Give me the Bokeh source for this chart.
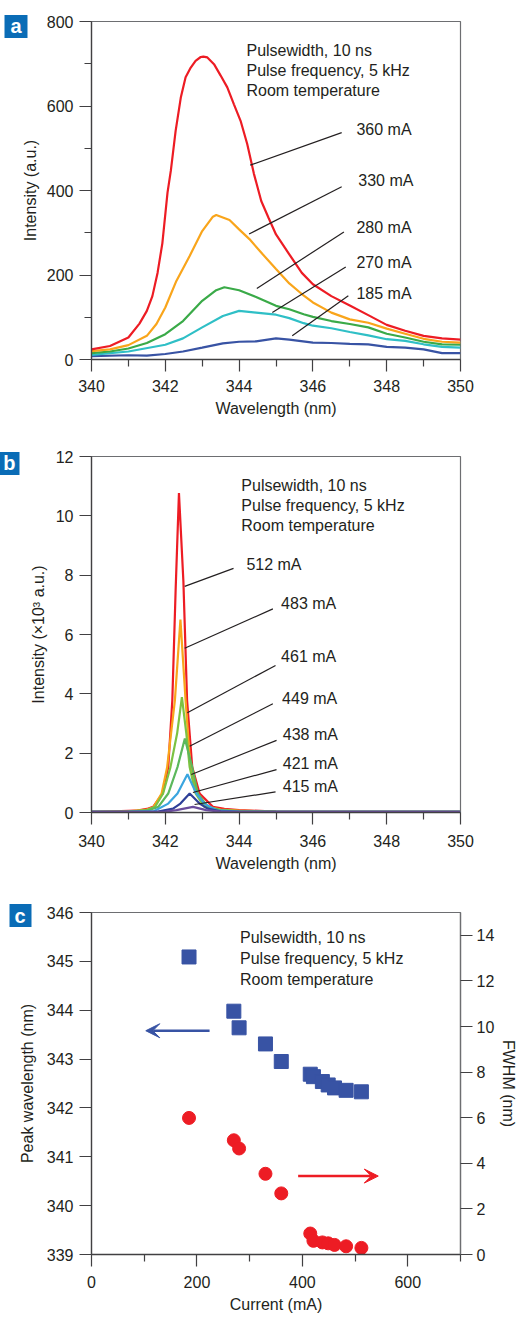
from bokeh.plotting import figure
from bokeh.layouts import column
from bokeh.models import (Range1d, LinearAxis, Label, Arrow, VeeHead, FixedTicker)
from bokeh.embed import file_html
from bokeh.resources import INLINE

# ---------------- data ----------------
# panel a: spectra below threshold (a.u.)
a_360_x = [340, 340.5, 341, 341.3, 341.5, 341.65, 341.79, 341.92, 342.06, 342.15, 342.28,
           342.42, 342.55, 342.69, 342.82, 342.96, 343.03, 343.14, 343.32, 343.5, 343.68,
           343.86, 344.04, 344.22, 344.4, 344.6, 344.8, 345, 345.36, 345.7, 346, 346.5,
           347, 347.5, 348, 348.5, 349, 349.5, 350]
a_360_y = [24, 32, 52, 85, 115, 150, 205, 275, 395, 447, 541, 620, 668, 691, 707, 716, 717,
           715, 699, 672, 644, 604, 565, 510, 440, 375, 335, 296, 249, 205, 178, 150, 128,
           105, 82, 68, 56, 50, 47]
a_330_x = [340, 340.5, 341, 341.5, 341.76, 342.0, 342.3, 342.66, 343.0, 343.29, 343.38,
           343.74, 344.0, 344.28, 344.64, 345.0, 345.36, 345.7, 346, 346.5, 347, 347.5,
           348, 348.5, 349, 349.5, 350]
a_330_y = [20, 24, 34, 56, 84, 123, 186, 245, 304, 338, 342, 330, 308, 285, 249, 214, 180,
           155, 135, 111, 95, 87, 73, 61, 49, 42, 40]
a_280_x = [340, 340.5, 341, 341.5, 342, 342.48, 343, 343.38, 343.6, 344, 344.46, 345,
           345.36, 345.75, 346, 346.5, 347, 347.5, 348, 348.5, 349, 349.5, 350]
a_280_y = [15, 19, 26, 39, 60, 91, 139, 164, 171, 164, 148, 127, 119, 107, 101, 91, 84,
           76, 61, 52, 42, 36, 35]
a_270_x = [340, 341, 342, 342.48, 343, 343.56, 344.0, 344.46, 345, 345.36, 345.75, 346,
           346.5, 347, 347.5, 348, 348.5, 349, 349.5, 350]
a_270_y = [11, 19, 35, 50, 76, 103, 115, 111, 106, 98, 86, 80, 74, 65, 57, 48, 44, 36,
           30, 28]
a_185_x = [340, 341, 341.5, 342, 342.48, 343, 343.56, 344, 344.46, 345, 345.36, 346,
           346.5, 347, 347.5, 348, 348.5, 349, 349.5, 350]
a_185_y = [8, 10, 9, 13, 19, 28, 38, 42, 43, 50, 47, 40, 39, 37, 36, 30, 28, 24, 15, 15]
labels_a = ["360 mA", "330 mA", "280 mA", "270 mA", "185 mA"]

# panel b: spectra above threshold (x10^3 a.u.)
b_512_x = [340, 340.8, 341.2, 341.5, 341.67, 341.93, 342.08, 342.19, 342.28, 342.37,
           342.49, 342.59, 342.73, 342.93, 343.29, 343.6, 344, 345, 346, 350]
b_512_y = [0.02, 0.05, 0.06, 0.12, 0.19, 0.64, 1.53, 3.78, 7.5, 10.77, 7.8, 3.78, 1.53,
           0.64, 0.19, 0.12, 0.08, 0.03, 0.02, 0.02]
b_483_x = [340, 341, 341.5, 341.67, 341.9, 342.05, 342.26, 342.41, 342.55, 342.68,
           342.86, 343.15, 343.5, 344, 345, 350]
b_483_y = [0.02, 0.04, 0.1, 0.17, 0.64, 1.53, 3.78, 6.5, 3.78, 1.53, 0.64, 0.19, 0.1,
           0.06, 0.03, 0.02]
b_461_x = [340, 341, 341.5, 341.72, 341.94, 342.14, 342.32, 342.45, 342.57, 342.66,
           342.82, 343.06, 343.5, 344, 345, 350]
b_461_y = [0.02, 0.03, 0.08, 0.19, 0.64, 1.53, 2.66, 3.89, 2.66, 1.53, 0.64, 0.19, 0.08,
           0.05, 0.03, 0.02]
b_449_x = [340, 341, 341.5, 341.81, 342.08, 342.33, 342.53, 342.73, 342.88, 343.15,
           343.5, 344, 345, 350]
b_449_y = [0.02, 0.03, 0.06, 0.19, 0.64, 1.53, 2.49, 1.53, 0.64, 0.19, 0.07, 0.04,
           0.02, 0.02]
b_438_x = [340, 341, 341.7, 342.08, 342.33, 342.6, 342.84, 343.06, 343.4, 344, 345, 350]
b_438_y = [0.02, 0.02, 0.05, 0.3, 0.64, 1.29, 0.64, 0.3, 0.07, 0.03, 0.02, 0.02]
b_421_x = [340, 341, 341.8, 342.21, 342.41, 342.66, 342.93, 343.15, 343.5, 344, 350]
b_421_y = [0.02, 0.02, 0.03, 0.13, 0.3, 0.64, 0.3, 0.13, 0.04, 0.02, 0.02]
b_415_x = [340, 341, 342.0, 342.3, 342.75, 343.11, 343.5, 344, 350]
b_415_y = [0.02, 0.02, 0.03, 0.08, 0.19, 0.08, 0.03, 0.02, 0.02]
labels_b = ["512 mA", "483 mA", "461 mA", "449 mA", "438 mA", "421 mA", "415 mA"]

# panel c: peak wavelength and FWHM vs current
current = [185, 270, 280, 330, 360, 415, 421, 438, 449, 461, 483, 512]
peak_wl = [345.09, 343.98, 343.64, 343.31, 342.95, 342.69, 342.64, 342.54, 342.47,
           342.41, 342.36, 342.33]
fwhm = [5.99, 5.01, 4.65, 3.54, 2.68, 0.92, 0.60, 0.53, 0.49, 0.42, 0.36, 0.29]

info_lines = ["Pulsewidth, 10 ns", "Pulse frequency, 5 kHz", "Room temperature"]

# ---------------- style ----------------
FONT = "'Liberation Sans Narrow', 'Liberation Sans', sans-serif"
TXT = "#231f20"
FS = "16px"
W = 526
BADGE = "#0a6cb6"


def style_axis(ax, s1, s2):
    ax.axis_line_color = "#414042"
    ax.axis_line_width = 1.3
    ax.major_tick_line_color = "#414042"
    ax.minor_tick_line_color = "#414042"
    ax.major_tick_line_width = 1.2
    ax.minor_tick_line_width = 1.2
    ax.major_tick_out = 12
    ax.major_tick_in = 0
    ax.minor_tick_out = 7
    ax.minor_tick_in = 0
    ax.major_label_text_font = FONT
    ax.major_label_text_font_size = FS
    ax.major_label_text_color = TXT
    ax.axis_label_text_font = FONT
    ax.axis_label_text_font_size = FS
    ax.axis_label_text_font_style = "normal"
    ax.axis_label_text_color = TXT
    ax.major_label_standoff = s1
    ax.axis_label_standoff = s2


def style(p, xticks, xminor, yticks, yminor, xs=(8, 5), ys=(6, 5)):
    p.xgrid.visible = False
    p.ygrid.visible = False
    p.outline_line_color = "#6d6e71"
    p.outline_line_width = 1.2
    p.background_fill_color = "white"
    p.border_fill_color = "white"
    p.xaxis[0].ticker = FixedTicker(ticks=xticks, minor_ticks=xminor)
    p.yaxis[0].ticker = FixedTicker(ticks=yticks, minor_ticks=yminor)
    style_axis(p.xaxis[0], *xs)
    style_axis(p.yaxis[0], *ys)


def badge(p, letter, yval, t_out, t_in, standoff):
    # panel letter drawn as a single thick tick of an extra, line-less left axis
    ax = LinearAxis(ticker=FixedTicker(ticks=[yval], minor_ticks=[]),
                    major_label_overrides={yval: letter})
    ax.axis_line_color = None
    ax.major_tick_line_color = BADGE
    ax.major_tick_line_width = 23
    ax.major_tick_line_cap = "butt"
    ax.major_tick_out = t_out
    ax.major_tick_in = t_in
    ax.minor_tick_line_color = None
    ax.minor_tick_out = 0
    ax.minor_tick_in = 0
    ax.major_label_standoff = standoff
    ax.major_label_text_color = "white"
    ax.major_label_text_font = "'Liberation Sans', sans-serif"
    ax.major_label_text_font_style = "bold"
    ax.major_label_text_font_size = "20px"
    p.add_layout(ax, "left")


def txt(p, x, y, s, **kw):
    p.add_layout(Label(x=x, y=y, text=s, text_font=FONT, text_font_size=FS,
                       text_color=TXT, text_align="left", text_baseline="middle", **kw))


# ---------------- panel a ----------------
pa = figure(width=W, height=420, output_backend="svg", toolbar_location=None,
            x_range=Range1d(340, 350), y_range=Range1d(0, 800),
            min_border_left=91, min_border_right=66, min_border_top=21,
            min_border_bottom=61, x_axis_label="Wavelength (nm)",
            y_axis_label="Intensity (a.u.)")
style(pa, [340, 342, 344, 346, 348, 350], [341, 343, 345, 347, 349],
      [0, 200, 400, 600, 800], [100, 300, 500, 700], xs=(8, 5), ys=(6, 5))
series_a = [(a_185_x, a_185_y, "#3853a4"), (a_270_x, a_270_y, "#2fbfc6"),
            (a_280_x, a_280_y, "#3aaa48"), (a_330_x, a_330_y, "#f9a51b"),
            (a_360_x, a_360_y, "#ed1c24")]
for xs, ys, c in series_a:
    pa.line(xs, ys, line_color=c, line_width=2.2)

for i, s in enumerate(info_lines):
    txt(pa, 344.2, 731 - i * 47.3, s)
call_a = [((344.30, 460), (346.78, 537), (347.18, 545)),
          ((344.27, 297), (346.78, 409), (347.23, 423)),
          ((344.48, 168), (346.84, 302), (347.18, 312)),
          ((344.90, 111), (346.89, 219), (347.18, 230)),
          ((345.44, 56), (346.96, 151), (347.18, 156))]
for (p0, p1, lp), s in zip(call_a, labels_a):
    pa.line([p0[0], p1[0]], [p0[1], p1[1]], line_color=TXT, line_width=1.2)
    txt(pa, lp[0], lp[1], s)
badge(pa, "a", 788.6, 14, 9, -17)

# ---------------- panel b ----------------
pb = figure(width=W, height=456, output_backend="svg", toolbar_location=None,
            x_range=Range1d(340, 350), y_range=Range1d(0, 12),
            min_border_left=91, min_border_right=63, min_border_top=36,
            min_border_bottom=64, x_axis_label="Wavelength (nm)",
            y_axis_label="Intensity (\u00d710\u00b3 a.u.)")
style(pb, [340, 342, 344, 346, 348, 350], [341, 343, 345, 347, 349],
      [0, 2, 4, 6, 8, 10, 12], [], xs=(10, 5), ys=(6, 6))
series_b = [(b_512_x, b_512_y, "#ed1c24"), (b_483_x, b_483_y, "#f9a51b"),
            (b_461_x, b_461_y, "#7cc242"), (b_449_x, b_449_y, "#5cb85c"),
            (b_438_x, b_438_y, "#3aa5df"), (b_421_x, b_421_y, "#2e3f98"),
            (b_415_x, b_415_y, "#6a4c9c")]
for xs, ys, c in series_b:
    pb.line(xs, ys, line_color=c, line_width=2.2)
for i, s in enumerate(info_lines):
    txt(pb, 344.06, 11.01 - i * 0.672, s)
call_b = [((342.525, 7.624), (343.849, 8.230), (344.198, 8.345)),
          ((342.525, 5.538), (344.915, 6.864), (345.138, 7.052)),
          ((342.597, 3.365), (344.988, 4.956), (345.138, 5.269)),
          ((342.659, 2.231), (344.915, 3.668), (345.165, 3.836)),
          ((342.705, 1.279), (345.015, 2.433), (345.184, 2.624)),
          ((342.748, 0.673), (345.015, 1.447), (345.184, 1.649)),
          ((342.793, 0.269), (344.988, 0.693), (345.184, 0.861))]
for (p0, p1, lp), s in zip(call_b, labels_b):
    pb.line([p0[0], p1[0]], [p0[1], p1[1]], line_color=TXT, line_width=1.2)
    txt(pb, lp[0], lp[1], s)
badge(pb, "b", 11.77, 27, -7, -16)

# ---------------- panel c ----------------
pc = figure(width=W, height=441, output_backend="svg", toolbar_location=None,
            x_range=Range1d(0, 700), y_range=Range1d(339, 346),
            min_border_left=89, min_border_right=64, min_border_top=36,
            min_border_bottom=63, x_axis_label="Current (mA)",
            y_axis_label="Peak wavelength (nm)")
pc.extra_y_ranges = {"fwhm": Range1d(0, 15)}
rax = LinearAxis(y_range_name="fwhm", axis_label="FWHM (nm)")
pc.add_layout(rax, "right")
style(pc, [0, 200, 400, 600], [100, 300, 500, 700], [339, 340, 341, 342, 343, 344, 345, 346],
      [], xs=(9, 5), ys=(6, 8))
rax.ticker = FixedTicker(ticks=[0, 2, 4, 6, 8, 10, 12, 14], minor_ticks=[])
style_axis(rax, 4, 3)
rax.axis_line_color = "#6d6e71"

pc.scatter(current, peak_wl, marker="square", size=14, fill_color="#3853a4",
           line_color="#3853a4")
pc.scatter(current, fwhm, marker="circle", size=13, fill_color="#ed1c24",
           line_color="#ed1c24", y_range_name="fwhm")
pc.add_layout(Arrow(end=VeeHead(size=14, fill_color="#3853a4", line_color="#3853a4"),
                    x_start=224, y_start=343.58, x_end=103, y_end=343.58,
                    line_color="#3853a4", line_width=2.5))
pc.add_layout(Arrow(end=VeeHead(size=14, fill_color="#ed1c24", line_color="#ed1c24"),
                    x_start=392, y_start=3.44, x_end=544, y_end=3.44,
                    y_range_name="fwhm", line_color="#ed1c24", line_width=2.5))
for i, s in enumerate(info_lines):
    txt(pc, 281.8, 345.496 - i * 0.43, s)
badge(pc, "c", 345.93, 6, 16, -16)

layout = column(pa, pb, pc, spacing=0)
open("out.html", "w").write(file_html(layout, INLINE))
